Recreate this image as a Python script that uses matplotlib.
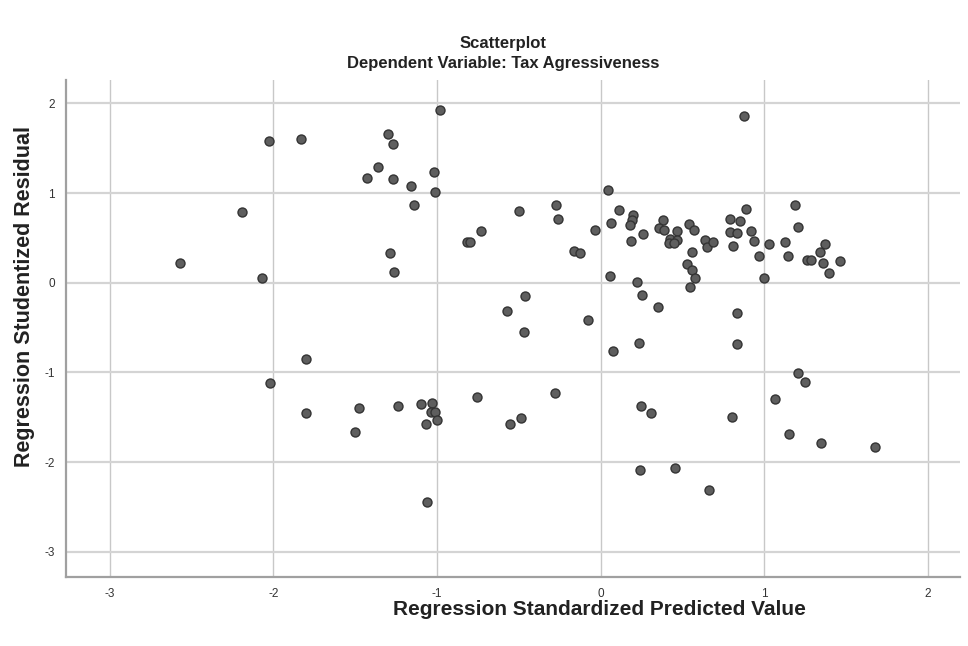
import matplotlib
matplotlib.use("Agg")
import matplotlib.pyplot as plt

# Regression standardized predicted value (x) and studentized residual (y)
pred = [
    -2.03, -1.83, -2.19, -2.57, -2.07,
    -0.98, -1.30, -1.27, -1.36, -1.43, -1.27, -1.16, -1.02, -1.01, -1.14,
    -1.29, -1.26, -0.815,
    -0.50, -0.27, -0.26, -0.73, -0.80, -0.035, -0.165, -0.124,
    -0.46, -0.57, -0.075,
    0.043, 0.067, 0.114, 0.20, 0.19, 0.18, 0.26, 0.185, 0.38, 0.36, 0.39,
    0.465, 0.425, 0.47, 0.42, 0.45, 0.54, 0.57, 0.56, 0.64, 0.65, 0.69,
    0.79, 0.79, 0.81, 0.53, 0.56, 0.58, 0.545, 0.057, 0.226, 0.256,
    0.89, 0.85, 0.835, 0.92, 0.94, 0.97, 1.03, 1.00, 1.19, 1.21, 1.13,
    1.145, 1.37, 1.34, 1.26, 1.29, 1.36, 1.465, 1.40, 0.88,
    -0.465, 0.35, 0.835, 0.236, 0.077, 0.835,
    -0.754, -0.28, -0.486, -0.553, 0.25, 0.31, 0.807,
    0.242, 0.455, 0.665,
    1.21, 1.25, 1.065, 1.15, 1.35, 1.68,
    -1.80, -2.02, -1.80, -1.474, -1.50, -1.24, -1.10, -1.03, -1.035,
    -1.01, -1.00, -1.065, -1.06,
]
resid = [
    1.58, 1.60, 0.79, 0.22, 0.05,
    1.93, 1.66, 1.55, 1.29, 1.17, 1.16, 1.08, 1.23, 1.01, 0.87,
    0.33, 0.12, 0.45,
    0.80, 0.87, 0.71, 0.58, 0.46, 0.59, 0.35, 0.33,
    -0.145, -0.31, -0.41,
    1.04, 0.67, 0.81, 0.76, 0.70, 0.64, 0.54, 0.47, 0.70, 0.61, 0.59,
    0.58, 0.49, 0.48, 0.44, 0.44, 0.66, 0.59, 0.345, 0.48, 0.40, 0.45,
    0.71, 0.57, 0.41, 0.205, 0.14, 0.05, -0.045, 0.07, 0.01, -0.14,
    0.82, 0.69, 0.55, 0.575, 0.47, 0.30, 0.43, 0.05, 0.865, 0.62, 0.45,
    0.30, 0.43, 0.345, 0.25, 0.25, 0.215, 0.24, 0.11, 1.86,
    -0.545, -0.27, -0.34, -0.675, -0.765, -0.68,
    -1.27, -1.23, -1.51, -1.58, -1.37, -1.45, -1.50,
    -2.09, -2.07, -2.31,
    -1.01, -1.11, -1.295, -1.69, -1.79, -1.83,
    -0.85, -1.12, -1.45, -1.395, -1.66, -1.37, -1.35, -1.34, -1.44,
    -1.44, -1.53, -1.58, -2.44,
]
x_ticks = [-3, -2, -1, 0, 1, 2]
y_ticks = [-3, -2, -1, 0, 1, 2]

plt.rcParams["font.family"] = ["Liberation Sans", "DejaVu Sans"]

fig = plt.figure(figsize=(9.68, 6.46), dpi=100)
ax = fig.add_axes([0.068, 0.107, 0.924, 0.769])

ax.scatter(pred, resid, s=42, c="#5e5e5e", edgecolors="#333333",
           linewidths=1.0, zorder=3)

ax.set_xlim(-3.27, 2.2)
ax.set_ylim(-3.28, 2.26)
ax.set_xticks(x_ticks)
ax.set_yticks(y_ticks)
ax.set_xticklabels([str(t) for t in x_ticks])
ax.set_yticklabels([str(t) for t in y_ticks])
ax.tick_params(length=0, labelsize=8.5, labelcolor="#333333", pad=8)

ax.grid(axis="x", color="#c8c8c8", lw=1.0)
ax.grid(axis="y", color="#d4d4d4", lw=1.6)
ax.set_axisbelow(True)

for side in ("top", "right"):
    ax.spines[side].set_visible(False)
for side in ("left", "bottom"):
    ax.spines[side].set_color("#a0a0a0")
    ax.spines[side].set_linewidth(1.6)

ax.set_xlabel("Regression Standardized Predicted Value", fontsize=15,
              fontweight="bold", color="#222222")
ax.xaxis.set_label_coords(0.597, -0.046)
ax.set_ylabel("Regression Studentized Residual", fontsize=15.5,
              fontweight="bold", color="#222222")
ax.yaxis.set_label_coords(-0.034, 0.565)

fig.text(0.520, 0.932, "Scatterplot", ha="center", va="center",
         fontsize=12, fontweight="bold", color="#222222")
fig.text(0.520, 0.902, "Dependent Variable: Tax Agressiveness", ha="center",
         va="center", fontsize=12, fontweight="bold", color="#222222")

fig.savefig("out.png", dpi=100)
